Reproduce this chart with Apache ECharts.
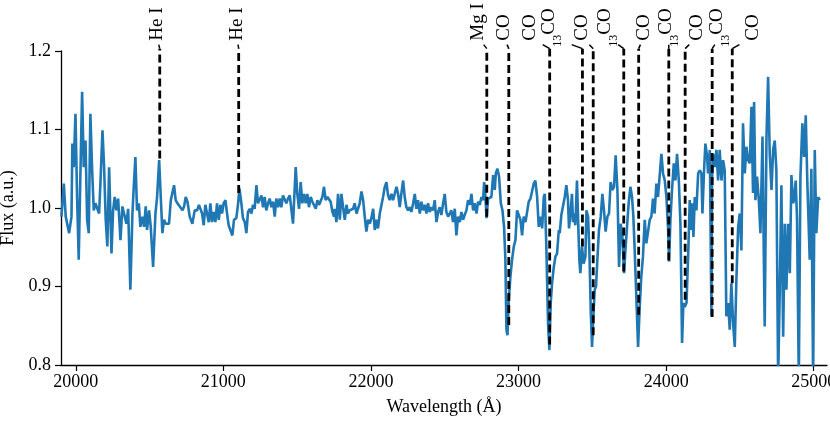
<!DOCTYPE html>
<html>
<head>
<meta charset="utf-8">
<script src="https://cdn.jsdelivr.net/npm/echarts@6/dist/echarts.min.js"></script>
<style>
  html, body { margin: 0; padding: 0; background: #fff; }
  #chart { width: 830px; height: 423px; }
</style>
</head>
<body>
<div id="chart"></div>
<script>
// spectrum: [wavelength (Å), flux]
var spectrum = [
  [19903,0.989],[19919,1.031],[19932,0.989],[19955,0.968],[19971,0.989],[19977,1.082],[19986,1.052],[19998,1.120],
  [20009,1.014],[20020,0.934],[20032,1.048],[20043,1.148],[20054,1.052],[20066,1.086],[20077,0.985],[20088,0.968],
  [20099,1.120],[20111,1.048],[20122,0.997],[20133,1.006],[20144,1.008],[20158,0.993],[20169,1.040],[20181,1.099],
  [20192,1.052],[20203,0.985],[20214,0.951],[20226,1.052],[20242,0.942],[20253,0.997],[20264,1.014],[20275,0.997],
  [20287,1.012],[20303,0.959],[20316,1.002],[20327,1.002],[20343,0.980],[20355,0.999],[20370,0.896],[20384,0.993],
  [20393,1.027],[20404,1.065],[20415,0.997],[20427,1.006],[20438,0.976],[20452,0.989],[20463,0.976],[20474,1.002],
  [20483,0.972],[20497,0.997],[20508,0.976],[20524,0.925],[20540,0.993],[20551,1.014],[20565,1.061],[20576,1.014],
  [20587,0.968],[20598,0.985],[20610,0.980],[20632,0.980],[20644,1.010],[20666,1.029],[20677,1.010],[20689,1.006],
  [20705,1.002],[20723,0.997],[20734,1.002],[20745,1.014],[20757,1.008],[20772,0.989],[20790,0.980],[20806,0.997],
  [20822,0.997],[20835,1.004],
  [20844,1.006],[20856,0.993],[20867,0.978],[20878,1.004],[20890,1.006],[20901,0.982],[20912,1.006],[20923,0.982],
  [20935,0.995],[20946,0.982],[20957,1.006],[20969,0.985],[20980,1.004],[20991,0.993],[21002,1.006],[21014,1.010],
  [21025,0.993],[21036,0.978],[21048,0.976],[21061,0.965],[21072,0.985],[21088,0.987],[21100,1.006],[21109,1.025],
  [21122,1.006],[21133,0.987],[21145,0.982],[21156,0.968],[21167,0.995],[21179,0.999],[21190,0.993],[21201,1.004],
  [21212,0.999],[21224,1.029],[21235,1.006],[21246,1.004],[21258,1.016],[21269,1.001],[21280,1.014],[21291,0.997],
  [21303,1.006],[21314,1.012],[21325,1.001],[21337,1.008],[21348,0.989],[21359,1.012],[21371,1.001],[21382,1.012],
  [21393,1.001],[21404,1.016],[21416,1.018],[21427,1.006],[21438,1.012],[21450,1.016],[21461,1.018],[21472,0.980],
  [21483,1.023],[21490,1.052],[21501,1.018],[21513,0.999],[21524,1.033],[21535,1.006],[21547,1.018],[21558,1.006],
  [21569,1.018],[21580,1.001],[21592,1.014],[21603,1.008],[21614,1.010],[21626,0.999],[21637,1.010],[21648,1.004],
  [21660,1.004],[21671,1.014],[21682,1.027],[21693,1.010],[21705,1.014],[21716,1.012],[21727,1.008],[21739,0.995],
  [21750,0.989],
  [21755,0.999],[21766,0.982],[21777,1.018],[21789,0.985],[21800,1.018],[21811,1.001],[21823,0.985],[21834,1.004],
  [21845,0.993],[21856,0.997],[21868,0.995],[21879,0.999],[21890,1.006],[21902,0.993],[21913,0.995],[21924,1.006],
  [21936,1.021],[21947,1.010],[21958,0.989],[21969,0.970],[21981,0.985],[21992,0.980],[22003,0.987],[22015,0.999],
  [22026,0.972],[22037,0.985],[22048,0.974],[22060,0.993],[22071,0.995],[22082,1.014],[22094,1.027],[22105,1.033],
  [22116,1.016],[22127,1.010],[22139,1.018],[22150,1.010],[22161,1.018],[22173,1.027],[22184,1.018],[22195,1.001],
  [22206,1.018],[22218,1.035],[22229,1.014],[22240,1.001],[22252,0.997],[22263,1.001],[22274,0.995],[22286,1.006],
  [22297,1.018],[22308,0.999],[22319,1.010],[22331,0.993],[22342,1.008],[22353,0.997],[22365,1.004],[22376,0.993],
  [22387,1.006],[22398,0.995],[22410,1.001],[22421,0.997],[22432,1.010],[22444,0.982],[22455,0.995],[22466,1.001],
  [22477,0.991],[22489,1.006],[22500,1.018],[22511,0.995],[22523,0.989],[22534,0.987],[22545,0.997],[22556,0.982],
  [22568,0.999],[22579,0.965],[22590,0.989],[22602,0.982],[22613,0.995],[22624,0.985],[22635,0.991],[22647,0.997],
  [22658,1.010],
  [22670,1.004],[22681,1.018],[22692,0.997],[22703,1.006],[22715,0.993],[22726,1.008],[22737,1.004],[22749,1.014],
  [22760,1.010],[22767,1.033],[22776,1.014],[22783,0.987],[22794,1.012],[22805,1.010],[22816,1.014],[22828,1.042],
  [22839,1.023],[22846,1.044],[22857,1.050],[22868,1.040],[22880,1.006],[22891,0.997],[22902,0.976],[22911,0.934],
  [22918,0.845],[22925,0.838],[22934,0.883],[22945,0.913],[22956,0.934],[22968,0.951],[22979,0.959],[22990,0.997],
  [23002,0.999],[23013,0.985],[23024,0.965],[23035,0.989],[23047,0.982],[23058,0.995],[23069,1.008],[23081,1.012],
  [23092,1.010],[23103,1.031],[23114,1.035],[23126,1.014],[23137,0.976],[23148,0.989],[23160,0.974],[23171,1.014],
  [23178,1.018],[23189,0.946],[23200,0.853],[23209,0.819],[23218,0.879],[23227,0.904],[23239,0.925],[23250,0.938],
  [23261,0.942],[23273,0.972],
  [23279,0.968],[23290,0.991],[23301,0.993],[23313,1.014],[23324,1.029],[23335,1.010],[23342,0.974],[23351,0.991],
  [23362,1.018],[23369,0.982],[23376,0.993],[23385,0.978],[23396,1.035],[23403,0.989],[23412,0.934],[23419,0.917],
  [23430,0.951],[23441,0.929],[23453,0.938],[23460,0.997],[23471,0.989],[23480,0.946],[23489,0.870],[23498,0.823],
  [23507,0.862],[23516,0.896],[23525,0.900],[23534,0.934],[23545,0.972],[23557,0.989],[23568,1.018],[23579,0.997],
  [23590,0.970],[23602,0.989],[23613,0.993],[23624,1.033],[23636,1.023],[23647,1.027],[23658,1.067],[23670,1.023],
  [23681,0.925],[23692,0.980],[23703,0.965],[23715,0.917],[23724,0.946],[23735,0.976],[23746,1.006],[23758,1.027],
  [23769,1.014],[23778,0.989],[23787,0.946],[23798,0.887],[23810,0.823],[23821,0.874],[23832,0.913],[23843,0.938],
  [23855,0.985],[23866,0.955],[23877,0.955],[23889,0.985],[23900,0.989],[23911,1.012],[23922,0.993],[23934,1.031],
  [23945,1.014],[23956,1.016],
  [23968,1.069],[23979,1.044],[23991,1.035],[24002,1.014],[24013,0.975],[24020,0.932],[24029,0.985],[24040,1.023],
  [24052,1.057],[24063,1.035],[24074,1.069],[24086,1.035],[24097,0.980],[24108,0.828],[24117,0.879],[24126,0.874],
  [24138,0.879],[24149,0.938],[24160,1.010],[24167,0.972],[24176,1.006],[24185,0.963],[24194,1.014],[24205,0.997],
  [24217,1.044],[24228,1.048],[24239,1.044],[24246,0.993],[24257,1.048],[24266,1.082],[24278,1.065],[24284,1.044],
  [24296,1.074],[24307,0.862],[24311,1.035],[24318,1.069],[24329,1.052],[24341,1.074],[24352,1.035],[24363,1.074],
  [24375,1.035],[24386,1.061],[24397,1.048],[24408,0.862],[24420,0.879],[24431,0.845],[24442,0.904],[24454,0.853],
  [24465,0.823],[24476,0.908],[24488,0.976],[24499,0.993],[24510,0.946],[24521,1.108],[24533,1.044],
  [24544,1.078],[24555,1.061],[24567,1.057],[24578,1.129],[24589,1.019],[24596,1.135],[24605,1.010],[24616,1.040],
  [24628,1.010],[24639,0.968],[24653,1.091],[24662,0.938],[24668,0.849],[24680,1.091],[24691,1.167],[24702,1.069],
  [24714,1.023],[24725,1.074],[24736,1.086],[24747,1.048],[24759,0.780],[24770,0.896],[24781,1.029],[24793,0.836],
  [24804,0.980],[24815,0.896],[24826,0.980],[24838,0.917],[24849,1.042],[24860,1.006],[24867,1.010],[24878,1.035],
  [24887,0.985],[24899,0.780],[24910,1.040],[24923,1.108],[24935,1.065],[24946,1.118],[24957,1.031],[24973,0.934],
  [24984,1.050],[24996,0.780],[25007,1.074],[25018,0.968],[25030,1.014],[25041,1.010]
];

// line identifications
var lineNames  = ['He I', 'He I', 'Mg I', 'CO', 'CO', '13CO', 'CO', '13CO', 'CO', '13CO', 'CO', '13CO', 'CO'];
var lineWave   = [20569, 21104, 22785, 22934, 23211, 23433, 23506, 23713, 23814, 24018, 24129, 24312, 24448];
var lineBottom = [1.063, 1.019, 0.989, 0.851, 0.826, 0.951, 0.838, 0.919, 0.864, 0.933, 0.883, 0.861, 0.904];
var labelWave  = [20549, 21091, 22724, 22900, 23076, 23225, 23432, 23604, 23848, 24018, 24207, 24363, 24587];
var lineTop = 1.203;

var xTicks = [20000, 21000, 22000, 23000, 24000, 25000];
var yTicks = [0.8, 0.9, 1.0, 1.1, 1.2];

var serif = '"Liberation Serif", "DejaVu Serif", serif';

var marks = lineWave.map(function (w, i) {
  return [w, lineBottom[i], labelWave[i]];
});

var myChart = echarts.init(document.getElementById('chart'));

var option = {
  animation: false,
  backgroundColor: '#fff',
  grid: { left: 61, right: 3, top: 51, bottom: 58, containLabel: false, outerBoundsMode: 'none' },
  xAxis: {
    type: 'value',
    min: 19900,
    max: 25090,
    name: 'Wavelength (Å)',
    nameLocation: 'middle',
    nameGap: 33,
    nameTextStyle: { color: '#000', fontFamily: serif, fontSize: 18 },
    axisLine: { lineStyle: { color: '#000', width: 1.3 } },
    axisTick: { customValues: xTicks, length: 6, lineStyle: { color: '#000', width: 1.2 } },
    axisLabel: {
      customValues: xTicks, color: '#000', fontFamily: serif, fontSize: 18, margin: 8,
      formatter: function (v) { return String(v); }
    },
    splitLine: { show: false }
  },
  yAxis: {
    type: 'value',
    min: 0.8,
    max: 1.2,
    name: 'Flux (a.u.)',
    nameLocation: 'middle',
    nameGap: 44,
    nameTextStyle: { color: '#000', fontFamily: serif, fontSize: 18 },
    axisLine: { show: true, lineStyle: { color: '#000', width: 1.3 } },
    axisTick: { show: true, customValues: yTicks, length: 6, lineStyle: { color: '#000', width: 1.2 } },
    axisLabel: {
      customValues: yTicks, color: '#000', fontFamily: serif, fontSize: 18, margin: 10,
      formatter: function (v) { return v.toFixed(1); }
    },
    splitLine: { show: false }
  },
  series: [
    {
      type: 'line',
      data: spectrum,
      showSymbol: false,
      clip: true,
      lineStyle: { color: '#1f77b4', width: 2.6 },
      z: 2
    },
    {
      type: 'custom',
      data: marks,
      clip: false,
      silent: true,
      z: 5,
      renderItem: function (params, api) {
        var i = params.dataIndex;
        var bottom = api.coord([api.value(0), api.value(1)]);
        var top = api.coord([api.value(0), lineTop]);
        var lab = api.coord([api.value(2), lineTop]);
        var name = lineNames[i];
        var iso = name.indexOf('13') === 0;
        var cx = top[0] + (lab[0] - top[0]) * 0.35;
        return {
          type: 'group',
          children: [
            {
              type: 'line',
              shape: { x1: bottom[0], y1: bottom[1], x2: top[0], y2: top[1] },
              style: { stroke: '#000', lineWidth: 2.8, lineDash: [8, 4] }
            },
            {
              type: 'line',
              shape: { x1: top[0], y1: top[1], x2: cx, y2: top[1] - 4 },
              style: { stroke: '#000', lineWidth: 1.5 }
            },
            {
              type: 'text',
              x: lab[0],
              y: top[1] - (iso ? 2 : 8),
              rotation: Math.PI / 2,
              style: {
                text: iso ? '{sub|13}{main|CO}' : name,
                fill: '#000',
                fontFamily: serif,
                fontSize: 19,
                align: 'left',
                verticalAlign: 'middle',
                rich: {
                  main: { fontFamily: serif, fontSize: 19, lineHeight: 24, verticalAlign: 'top' },
                  sub: { fontFamily: serif, fontSize: 12, lineHeight: 11, verticalAlign: 'bottom' }
                }
              }
            }
          ]
        };
      }
    }
  ]
};

myChart.setOption(option);
</script>
</body>
</html>
